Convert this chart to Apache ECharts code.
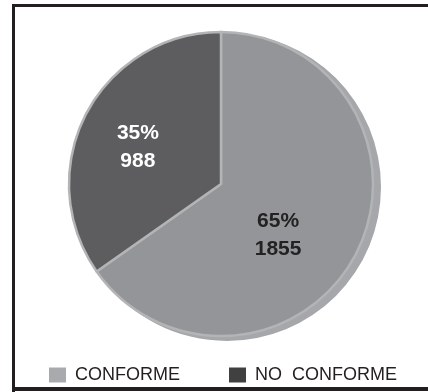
<!DOCTYPE html>
<html>
<head>
<meta charset="utf-8">
<script src="https://cdn.jsdelivr.net/npm/echarts@6/dist/echarts.min.js"></script>
<style>html,body{margin:0;padding:0;background:#fff;overflow:hidden;}#c{width:428px;height:392px;}</style>
</head>
<body>
<div id="c"></div>
<script>
const categories = ['CONFORME', 'NO  CONFORME'];
const values = [1855, 988];
const percents = ['65%', '35%'];
const faceColors = ['#939598', '#5d5d60'];
const rimColors = ['#a6a7aa', '#57575a'];
const legendColors = ['#a9aaad', '#404040'];
const labelColors = ['#222222', '#ffffff'];

const chart = echarts.init(document.getElementById('c'), null, {renderer: 'canvas'});
const faceData = categories.map((n, i) => ({
  name: n, value: values[i],
  itemStyle: {color: faceColors[i]},
  label: {color: labelColors[i]}
}));
const rimData = categories.map((n, i) => ({
  name: n, value: values[i],
  itemStyle: {color: rimColors[i]}
}));
chart.setOption({
  animation: false,
  graphic: [{
    type: 'rect', z: 100, silent: true,
    shape: {x: 12, y: 4, width: 3, height: 388},
    style: {fill: '#231f20'}
  }, {
    type: 'rect', z: 100, silent: true,
    shape: {x: 12, y: 4, width: 416, height: 3},
    style: {fill: '#231f20'}
  }, {
    type: 'rect', z: 100, silent: true,
    shape: {x: 12, y: 387, width: 416, height: 4},
    style: {fill: '#231f20'}
  }],
  legend: {
    left: 44, top: 361,
    itemWidth: 17, itemHeight: 15, itemGap: 49,
    icon: 'rect',
    textStyle: {fontFamily: 'Liberation Sans, Arial', fontSize: 18, color: '#231f20', padding: [0, 0, 0, 4]},
    data: categories.map((n, i) => ({name: n, itemStyle: {color: legendColors[i]}}))
  },
  series: [{
    type: 'pie', silent: true, legendHoverLink: false,
    center: [227, 187], radius: 154,
    startAngle: 90, clockwise: true,
    label: {show: false}, labelLine: {show: false},
    itemStyle: {borderWidth: 0},
    data: rimData
  }, {
    type: 'pie', silent: true,
    center: [221, 184], radius: 152,
    startAngle: 90, clockwise: true,
    itemStyle: {borderColor: '#b3b4b6', borderWidth: 2.5},
    label: {
      show: true, position: 'inside',
      fontFamily: 'Liberation Sans, Arial', fontWeight: 'bold', fontSize: 21, lineHeight: 28,
      formatter: p => percents[p.dataIndex] + '\n' + p.value
    },
    labelLine: {show: false},
    labelLayout: p => p.dataIndex === 0 ? {dx: -13, dy: 15} : {dx: -13, dy: 0},
    data: faceData
  }]
});
</script>
</body>
</html>
